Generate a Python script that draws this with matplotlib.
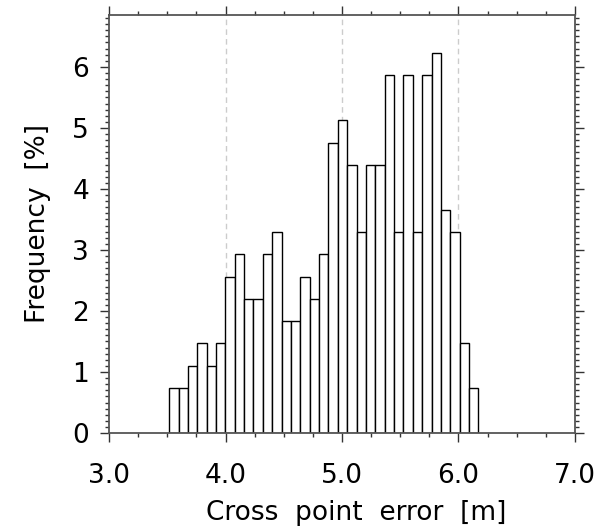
import numpy as np
import matplotlib
matplotlib.use('Agg')
import matplotlib.pyplot as plt
from matplotlib.ticker import MultipleLocator, FormatStrFormatter

# histogram of cross point error, frequency in percent per bin
bin_start = 3.515   # left edge of the first bin [m]
bin_width = 0.0805  # bin width [m]
freq = [0.73, 0.73, 1.10, 1.47, 1.10, 1.47, 2.56, 2.93, 2.20, 2.20,
        2.93, 3.30, 1.83, 1.83, 2.56, 2.20, 2.93, 4.76, 5.13, 4.40,
        3.30, 4.40, 4.40, 5.86, 3.30, 5.86, 3.30, 5.86, 6.23, 3.66,
        3.30, 1.47, 0.73]

x_ticks = [3.0, 4.0, 5.0, 6.0, 7.0]
grid_x = [4.0, 5.0, 6.0]

plt.rcParams['font.family'] = 'DejaVu Sans'
plt.rcParams['font.size'] = 19

fig = plt.figure(figsize=(6.0, 5.3), dpi=100)
ax = fig.add_axes([0.182, 0.183, 0.776, 0.789])

left_edges = bin_start + bin_width * np.arange(len(freq))

# light dashed grid lines behind the bars
for gx in grid_x:
    ax.axvline(gx, color='#cccccc', lw=1.0, ls=(0, (4, 3)), zorder=0)

ax.bar(left_edges, freq, width=bin_width, align='edge',
       facecolor='white', edgecolor='black', lw=1.0, zorder=2)

ax.set_xlim(x_ticks[0], x_ticks[-1])
ax.set_ylim(0, 1.1 * max(freq))

ax.xaxis.set_major_locator(MultipleLocator(1.0))
ax.xaxis.set_minor_locator(MultipleLocator(0.25))
ax.xaxis.set_major_formatter(FormatStrFormatter('%.1f'))
ax.yaxis.set_major_locator(MultipleLocator(1))
ax.yaxis.set_minor_locator(MultipleLocator(0.1))

ax.tick_params(which='both', direction='out', top=True, right=True,
               color='#333333', width=1.0)
ax.tick_params(which='major', length=6.5)
ax.tick_params(which='minor', length=3)
ax.tick_params(axis='x', which='major', pad=15)
ax.tick_params(axis='y', which='major', pad=8)

for sp in ax.spines.values():
    sp.set_color('#555555')
    sp.set_linewidth(1.3)

# the original uses wide word spacing
ax.set_xlabel('Cross  point  error  [m]')
ax.set_ylabel('Frequency  [%]', labelpad=15)
ax.xaxis.set_label_coords(0.53, -0.161)

fig.savefig('out.png', dpi=100)
